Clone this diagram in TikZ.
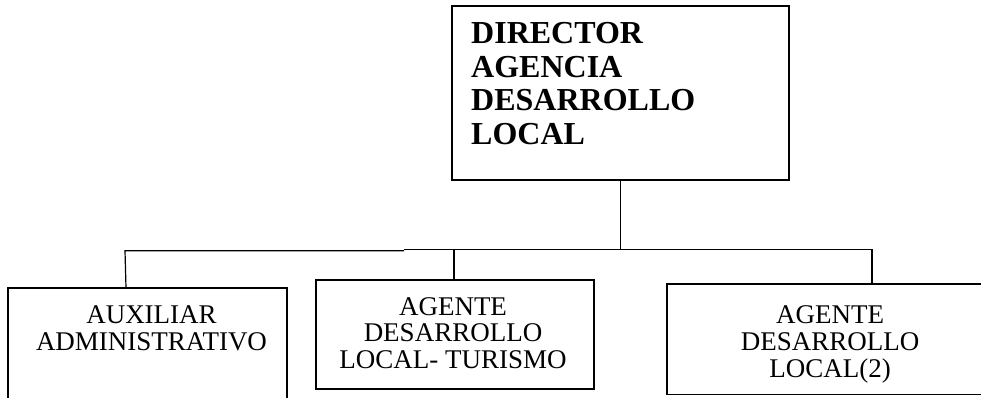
\documentclass[tikz,border=0pt]{standalone}
\usepackage{fontspec}
\setmainfont{Liberation Serif}
\begin{document}
\begin{tikzpicture}[x=1pt,y=-1pt,
  box/.style={draw,line width=1.2pt,inner sep=0pt,outer sep=0pt,anchor=north west},
  conn/.style={draw,line width=1.2pt},
  dtxt/.style={font=\fontsize{32}{34}\selectfont\bfseries,inner sep=0pt,anchor=base west},
  btxt/.style={font=\fontsize{27}{27}\selectfont,inner sep=0pt,anchor=base}]
\useasboundingbox (0,0) rectangle (981,397);
\clip (0,0) rectangle (981,397);
% boxes
\node[box,minimum width=337pt,minimum height=174pt] (dir) at (452,6) {};
\node[box,minimum width=279pt,minimum height=140pt] (aux) at (8,288) {};
\node[box,minimum width=278pt,minimum height=109pt] (tur) at (316,280) {};
\node[box,minimum width=326pt,minimum height=110.5pt] (loc) at (667,284) {};
% director text
\node[dtxt] (d1) at (471,43.5) {DIRECTOR};
\node[dtxt] (d2) at (471,77) {AGENCIA};
\node[dtxt] (d3) at (471,110.5) {DESARROLLO};
\node[dtxt] (d4) at (471,144) {LOCAL};
% lower texts
\node[btxt] (a1) at (151.5,323) {AUXILIAR};
\node[btxt] (a2) at (151.5,350) {ADMINISTRATIVO};
\node[btxt] (t1) at (453,315) {AGENTE};
\node[btxt] (t2) at (453,341.7) {DESARROLLO};
\node[btxt] (t3) at (453,368.3) {LOCAL- TURISMO};
\node[btxt] (g1) at (830,323) {AGENTE};
\node[btxt] (g2) at (830,350) {DESARROLLO};
\node[btxt] (g3) at (830,377) {LOCAL(2)};
% connectors
\coordinate (j) at (dir.south |- 0,249.3);
\coordinate (s) at (404,249.3);
\coordinate (s2) at (404,250.7);
\coordinate (l) at (125,250.7);
\coordinate (m) at (454,249.3);
\coordinate (r) at (872,249.3);
\draw[conn] (dir.south) -- (j);
\draw[conn] (s) -- (r) -- (r |- loc.north);
\draw[conn] (s2) -- (l) -- (aux.north -| 126,0);
\draw[conn] (m) -- (m |- tur.north);
\end{tikzpicture}
\end{document}
